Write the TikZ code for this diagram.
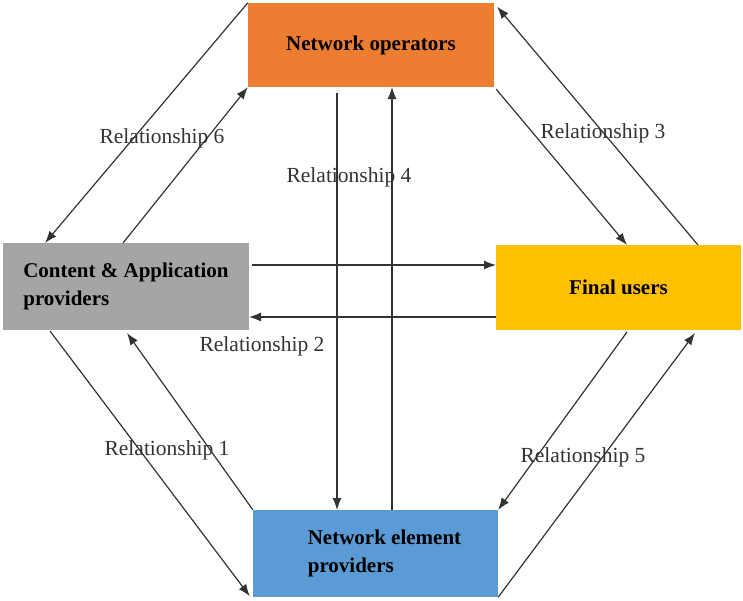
\documentclass[tikz,border=0pt]{standalone}
\usepackage{fontspec}
\setmainfont{Liberation Serif}
\usetikzlibrary{arrows.meta,calc}
\definecolor{opor}{HTML}{ED7D31}
\definecolor{cagray}{HTML}{A5A5A5}
\definecolor{fuyel}{HTML}{FFC000}
\definecolor{nepblue}{HTML}{5B9BD5}
\definecolor{linec}{HTML}{333333}
\tikzset{
  actor/.style={draw=none, inner sep=0pt, font=\fontsize{21}{28}\selectfont\bfseries, text=black, align=left},
  conn/.style={draw=linec, line width=1.2pt, -{Latex[length=12pt,width=9pt]}},
  rel/.style={font=\fontsize{21.5}{26}\selectfont, text=linec, inner sep=0pt}
}
\begin{document}
\begin{tikzpicture}[x=1pt,y=-1pt]
\useasboundingbox (0,0) rectangle (743,600);
\node[actor, fill=opor, minimum width=246pt, minimum height=84pt] (no) at (371,45) {Network operators};
\node[actor, fill=cagray, minimum width=246pt, minimum height=87pt] (ca) at (126,286.5) {Content \& Application\\providers};
\node[actor, fill=fuyel, minimum width=245pt, minimum height=85pt] (fu) at (618.5,287.5) {Final users};
\node[actor, fill=nepblue, minimum width=245pt, minimum height=87pt] (nep) at (375.5,553.5) {\hspace*{18pt}Network element\\\hspace*{18pt}providers};
% connector end points
\coordinate (ca6in) at (45,243);
\coordinate (ca6out) at (123,243);
\coordinate (fu3in) at (627,245);
\coordinate (fu3out) at (698,245);
\coordinate (no4out) at (337,93);
\coordinate (nep4in) at (337,510);
\coordinate (nep4out) at (392,510);
\coordinate (no4in) at (392,87);
\coordinate (ca2out) at (252,265);
\coordinate (fu2in) at (496,265);
\coordinate (fu2out) at (496,317);
\coordinate (ca2in) at (249,317);
\coordinate (ca1out) at (50,331);
\coordinate (ca1in) at (127,333);
\coordinate (fu5out) at (627,332);
\coordinate (fu5in) at (695,333);
% Relationship 6
\draw[conn] (no.north west) -- (ca6in);
\draw[conn] (ca6out) -- (no.south west);
% Relationship 3
\draw[conn] ($(no.south east)+(2,2)$) -- (fu3in);
\draw[conn] (fu3out) -- ($(no.north east)+(3,4)$);
% Relationship 4
\draw[conn] (no4out) -- (nep4in);
\draw[conn] (nep4out) -- (no4in);
% Relationship 2
\draw[conn] (ca2out) -- (fu2in);
\draw[conn] (fu2out) -- (ca2in);
% Relationship 1
\draw[conn] (ca1out) -- ($(nep.south west)+(-3,-1)$);
\draw[conn] (nep.north west) -- (ca1in);
% Relationship 5
\draw[conn] (fu5out) -- (nep.north east);
\draw[conn] (nep.south east) -- (fu5in);
% labels
\node[rel] (l6) at (162,138) {Relationship 6};
\node[rel] (l4) at (349,177) {Relationship 4};
\node[rel] (l3) at (603,133) {Relationship 3};
\node[rel] (l2) at (262,346) {Relationship 2};
\node[rel] (l1) at (167,450) {Relationship 1};
\node[rel] (l5) at (583,457) {Relationship 5};
\end{tikzpicture}
\end{document}
